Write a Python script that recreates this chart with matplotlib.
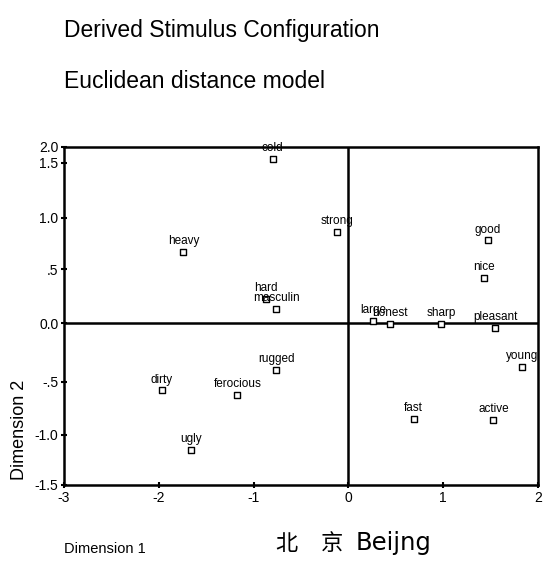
import matplotlib
matplotlib.use("Agg")
import matplotlib.pyplot as plt
import numpy as np

plt.rcParams['font.family'] = ['Liberation Sans', 'DejaVu Sans']

words = ["cold", "heavy", "strong", "hard", "masculin", "good", "nice",
         "large", "honest", "sharp", "pleasant", "young", "rugged", "dirty",
         "ferocious", "fast", "active", "ugly"]
dim1 = [-0.80, -1.74, -0.12, -0.87, -0.76, 1.47, 1.43,
        0.26, 0.44, 0.98, 1.55, 1.83, -0.76, -1.97,
        -1.17, 0.69, 1.53, -1.66]
dim2 = [1.63, 0.67, 0.86, 0.22, 0.13, 0.78, 0.42,
        0.02, -0.01, -0.01, -0.04, -0.37, -0.40, -0.58,
        -0.62, -0.85, -0.86, -1.15]

xticks = [-3, -2, -1, 0, 1, 2]
xticklabels = ["-3", "-2", "-1", "0", "1", "2"]
yticks = [2.0, 1.5, 1.0, 0.5, 0.0, -0.5, -1.0, -1.5]
yticklabels = ["2.0", "1.5", "1.0", ".5", "0.0", "-.5", "-1.0", "-1.5"]

# the source chart's vertical axis is unevenly spaced (tick positions in
# relative units, bottom = 0, top = 1); reproduce with a piecewise scale
tick_vals = np.array([-1.5, -1.0, -0.5, 0.0, 0.5, 1.0, 1.5, 2.0])
tick_pos = np.array([0.0, 0.148, 0.305, 0.479, 0.639, 0.790, 0.953, 1.0])

def fwd(v):
    return np.interp(v, tick_vals, tick_pos)

def inv(p):
    return np.interp(p, tick_pos, tick_vals)

fig = plt.figure(figsize=(5.45, 5.63), dpi=100)
ax = fig.add_axes([64/545, 1-485/563, (538-64)/545, (485-147)/563])
ax.set_yscale("function", functions=(fwd, inv))
ax.set_xlim(-3, 2)
ax.set_ylim(-1.5, 2.0)

ax.axhline(0, color="black", lw=1.8, zorder=1)
ax.axvline(0, color="black", lw=1.8, zorder=1)

ax.scatter(dim1, dim2, marker="s", s=14, facecolors="white",
           edgecolors="black", linewidths=1.0, zorder=3)
for w, x, y in zip(words, dim1, dim2):
    ax.annotate(w, (x, y), xytext=(0, 3.5), textcoords="offset points",
                ha="center", va="bottom", fontsize=8.5, color="black",
                zorder=4)

ax.set_xticks(xticks)
ax.set_xticklabels(xticklabels, fontsize=10)
ax.set_yticks(yticks)
ax.set_yticklabels(yticklabels, fontsize=10)
ax.minorticks_off()
ax.tick_params(direction="inout", length=4, width=1.5, pad=2)
for s in ax.spines.values():
    s.set_linewidth(1.8)
    s.set_color("black")

fig.text(64/545, 1-37/563, "Derived Stimulus Configuration", fontsize=16.5,
         ha="left", va="baseline")
fig.text(64/545, 1-88/563, "Euclidean distance model", fontsize=16.5,
         ha="left", va="baseline")
fig.text(20/545, 1-430/563, "Dimension 2", fontsize=13, rotation=90,
         ha="center", va="center")
fig.text(64/545, 1-553/563, "Dimension 1", fontsize=10.5,
         ha="left", va="baseline")
fig.text(275/545, 1-550/563, "北", fontsize=16, ha="left", va="baseline",
         family=["Noto Sans CJK SC", "DejaVu Sans"])
fig.text(321/545, 1-550/563, "京", fontsize=16, ha="left", va="baseline",
         family=["Noto Sans CJK SC", "DejaVu Sans"])
fig.text(356/545, 1-550/563, "Beijng", fontsize=17.5, ha="left", va="baseline",
         family=["DejaVu Sans"])

fig.savefig("out.png", dpi=100)
